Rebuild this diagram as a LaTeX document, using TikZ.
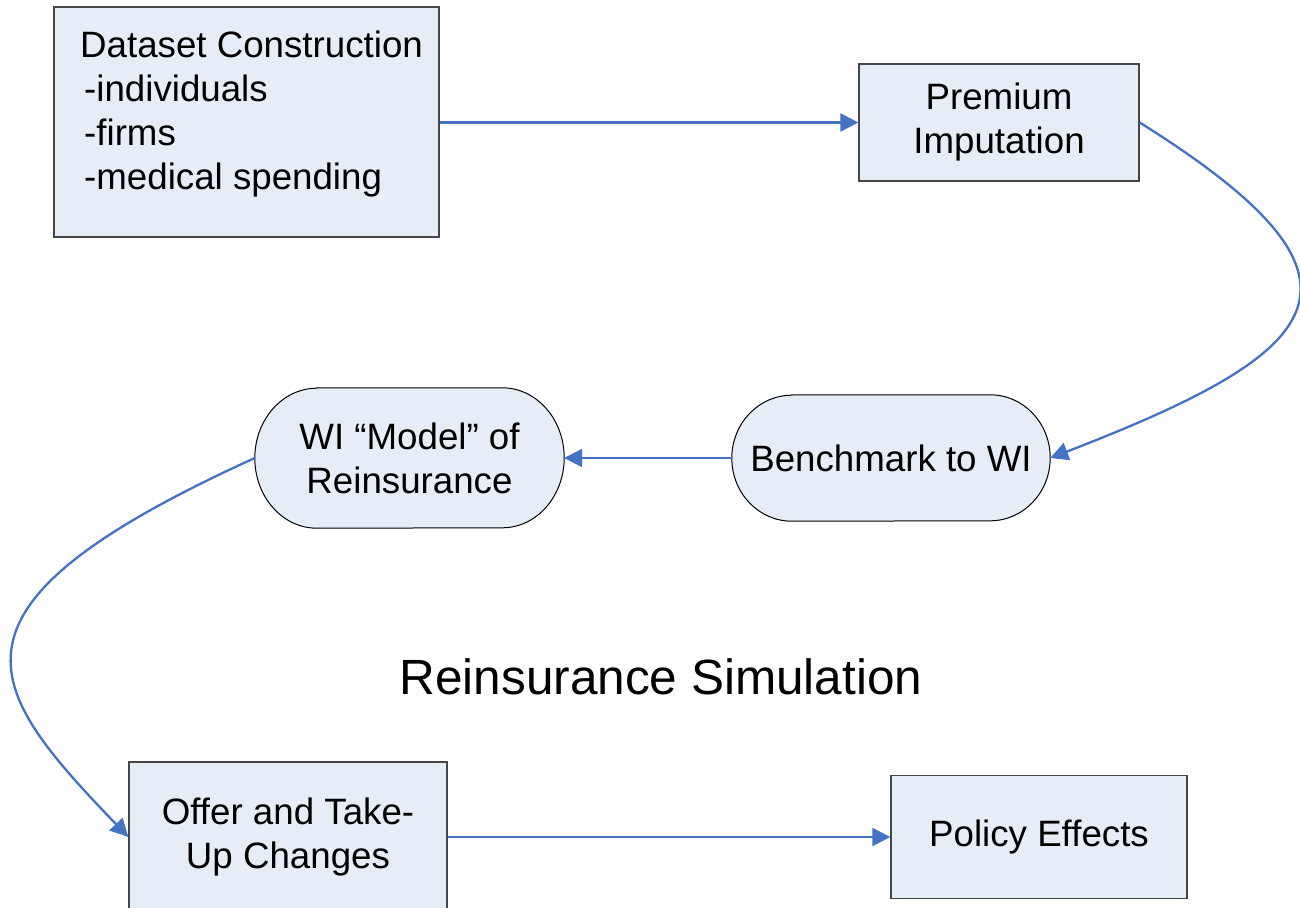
\documentclass[tikz,border=0pt]{standalone}
\usepackage{fontspec}
\setmainfont{Liberation Sans}
\usetikzlibrary{arrows.meta}
\definecolor{boxfill}{RGB}{231,237,247}
\definecolor{boxline}{RGB}{70,70,70}
\definecolor{arrowblue}{RGB}{68,114,196}
\tikzset{
  txt/.style={font=\fontsize{36.7}{44}\selectfont, text=black, inner sep=0pt},
  sqbox/.style={draw=boxline, fill=boxfill, line width=1.3pt, txt, align=center},
  rbox/.style={txt, align=center},
  link/.style={draw=arrowblue, line width=2.3pt, -{Triangle[length=18pt,width=18pt]}},
}
\newcommand{\roundshape}[3]{% node, x radius, y radius
  \path[draw=black, line width=1pt, fill=boxfill]
    ([xshift=#2]#1.north west) -- ([xshift=-#2]#1.north east)
    arc[start angle=90, end angle=-90, x radius=#2, y radius=#3]
    -- ([xshift=#2]#1.south west)
    arc[start angle=270, end angle=90, x radius=#2, y radius=#3] -- cycle;}
\begin{document}
\begin{tikzpicture}[x=1pt,y=-1pt]
\useasboundingbox[fill=white] (0,0) rectangle (1300,907);

% square boxes
\node[sqbox, minimum width=385pt, minimum height=230pt] (ds) at (246.5,122) {};
\node[txt, align=left, anchor=north west] (dstext) at (80,31)
  {Dataset Construction\\\hspace*{4pt}-individuals\\\hspace*{4pt}-firms\\\hspace*{4pt}-medical spending};
\node[sqbox, minimum width=280pt, minimum height=117pt] (prem) at (999,122.5) {Premium\\Imputation};
\node[sqbox, minimum width=318pt, minimum height=150pt] (offer) at (288,837) {Offer and Take-\\Up Changes};
\node[sqbox, minimum width=296pt, minimum height=123pt] (pol) at (1039,837) {Policy Effects};

% rounded shapes
\node[minimum width=318pt, minimum height=126pt, inner sep=0pt] (bench) at (891,458) {};
\roundshape{bench}{60pt}{63pt}
\node[rbox] (benchtext) at (bench.center) {Benchmark to WI};
\node[minimum width=309pt, minimum height=140pt, inner sep=0pt] (wi) at (409.5,458) {};
\roundshape{wi}{62pt}{70pt}
\node[rbox] (witext) at (wi.center) {WI \textquotedblleft Model\textquotedblright{} of\\Reinsurance};

% title
\node[font=\fontsize{49.5}{58}\selectfont, inner sep=0pt] (title) at (661,677) {Reinsurance Simulation};

% connectors
\draw[link] (ds.east |- prem.west) -- (prem.west);
\draw[link] (prem.east) .. controls +(254,159) and +(280,-108) .. (bench.east);
\draw[link] (bench.west) -- (wi.east);
\draw[link] (wi.west) .. controls +(-330,150) and +(-145,-151) .. (offer.west);
\draw[link] (offer.east) -- (pol.west);
\end{tikzpicture}
\end{document}
